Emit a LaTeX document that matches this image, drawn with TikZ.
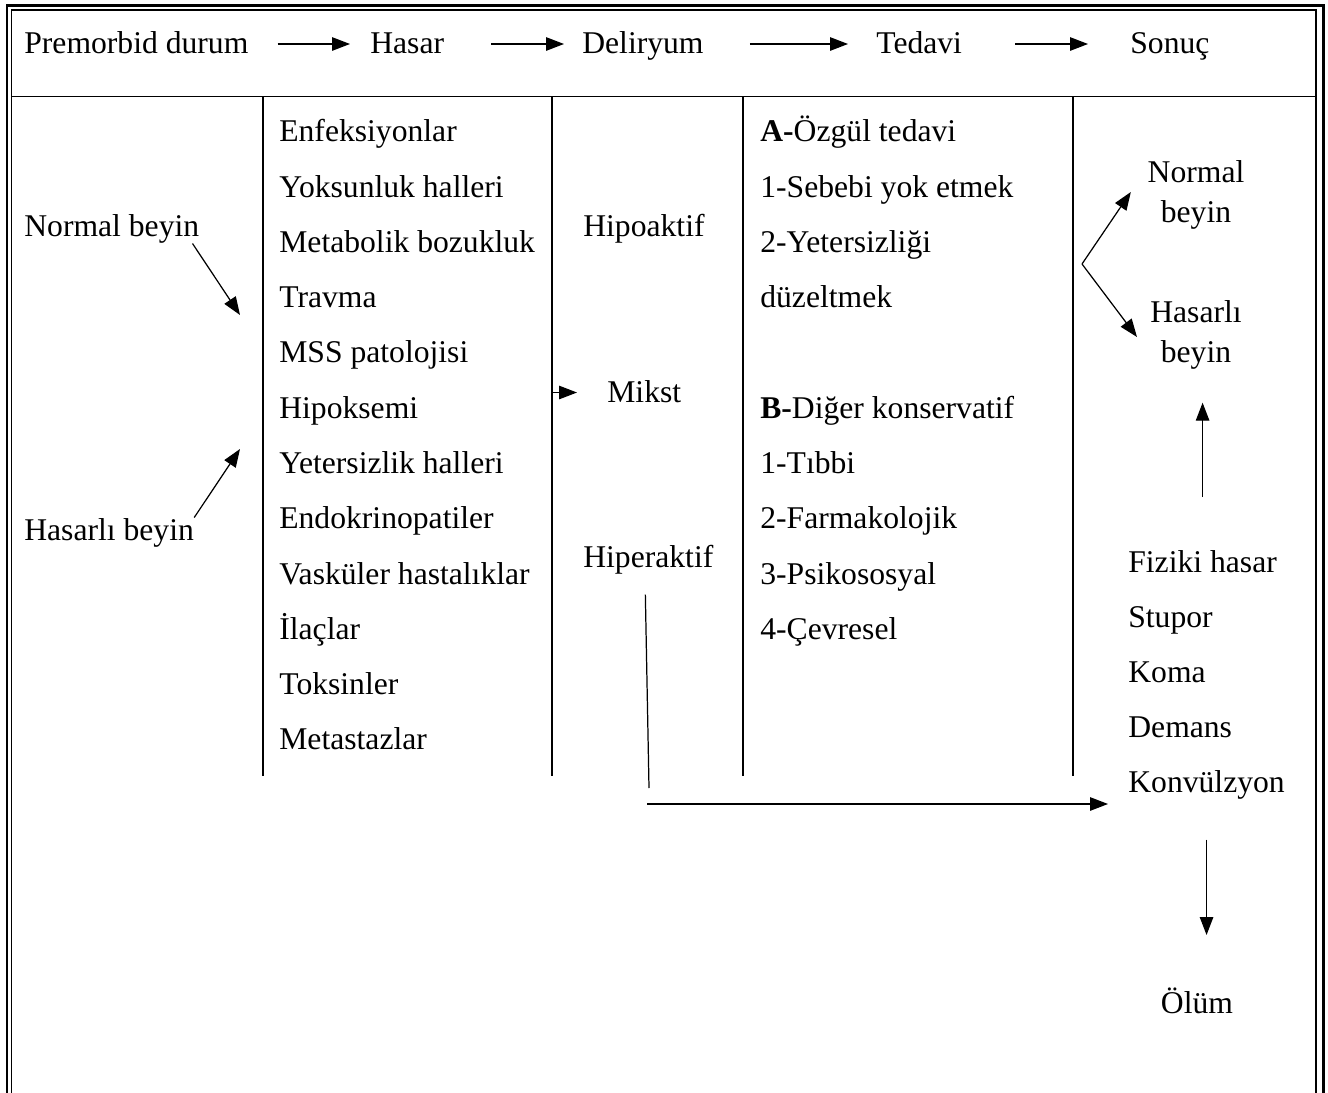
\documentclass[tikz,border=0pt]{standalone}
\usepackage{fontspec}
\setmainfont{Liberation Serif}
\usepackage{tikz}
\usetikzlibrary{arrows.meta,positioning,calc}
\tikzstyle{madde}=[inner sep=0pt, anchor=base west, text height=12.6pt,
  text depth=1.8pt, font=\fontsize{18}{22}\selectfont]
\tikzstyle{orta}=[madde, anchor=base]
\tikzstyle{ikisatir}=[inner sep=0pt, align=center, font=\fontsize{18}{22.7}\selectfont]
\tikzstyle{ok}=[draw, line width=0.7pt, -{Triangle[length=0.36cm,width=0.27cm]}]
\tikzstyle{kolon}=[draw, line width=1.1pt]
\newcommand{\madde}[2]{node (#1)[madde]{#2}}

\begin{document}
\begin{tikzpicture}
  \useasboundingbox (0,0) rectangle (26.56,-21.86);

  % Frame
  \draw[line width=1.7pt] (0.14,-21.86) -- (0.14,-0.11) -- (26.47,-0.11) -- (26.47,-21.86);
  \draw[line width=0.85pt] (0.23,-21.86) -- (0.23,-0.20) -- (26.32,-0.20) -- (26.32,-21.86);
  \draw[line width=1.1pt] (0.23,-1.93) -- (26.32,-1.93);
  \path[kolon] (5.26,-1.93) coordinate (kolon1) -- (5.26,-15.52);
  \path[kolon] (11.04,-1.93) coordinate (kolon2) -- (11.04,-15.52);
  \path[kolon] (14.86,-1.93) coordinate (kolon3) -- (14.86,-15.52);
  \path[kolon] (21.46,-1.93) coordinate (kolon4) -- (21.46,-15.52);

  % Header row
  \path (0.48,-1.07) \madde{premorbid}{Premorbid durum};
  \path (7.40,-1.07) \madde{hasar}{Hasar};
  \path (11.64,-1.07) \madde{deliryum}{Deliryum};
  \path (17.52,-1.07) \madde{tedavi}{Tedavi};
  \path (22.60,-1.07) \madde{sonuc}{Sonuç};

  \path[ok, shorten <=0.58cm, shorten >=0.40cm] (premorbid.east) -- (hasar.west);
  \path[ok, shorten <=0.94cm, shorten >=0.36cm] (hasar.east) -- (deliryum.west);
  \path[ok, shorten <=0.92cm, shorten >=0.56cm] (deliryum.east) -- (tedavi.west);
  \path[ok, shorten <=1.06cm, shorten >=0.84cm] (tedavi.east) -- (sonuc.west);

  % Premorbid state
  \path (0.48,-4.74) \madde{normalsol}{Normal beyin};
  \path (0.48,-10.80) \madde{hasarlisol}{Hasarlı beyin};
  \coordinate (girisust) at (4.80,-6.30);
  \coordinate (girisalt) at (4.80,-8.98);
  \path[ok] ($(normalsol.south east)+(-0.14,-0.06)$) -- (girisust);
  \path[ok] (hasarlisol.north east) -- (girisalt);

  % Causes
  \path (5.58,-2.84) \madde{h1}{Enfeksiyonlar};
  \path (h1.base west)+(0,-1.105) \madde{h2}{Yoksunluk halleri};
  \path (h2.base west)+(0,-1.105) \madde{h3}{Metabolik bozukluk};
  \path (h3.base west)+(0,-1.105) \madde{h4}{Travma};
  \path (h4.base west)+(0,-1.105) \madde{h5}{MSS patolojisi};
  \path (h5.base west)+(0,-1.105) \madde{h6}{Hipoksemi};
  \path (h6.base west)+(0,-1.105) \madde{h7}{Yetersizlik halleri};
  \path (h7.base west)+(0,-1.105) \madde{h8}{Endokrinopatiler};
  \path (h8.base west)+(0,-1.105) \madde{h9}{Vasküler hastalıklar};
  \path (h9.base west)+(0,-1.105) \madde{h10}{İlaçlar};
  \path (h10.base west)+(0,-1.105) \madde{h11}{Toksinler};
  \path (h11.base west)+(0,-1.105) \madde{h12}{Metastazlar};

  % Delirium types
  \path (11.66,-4.74) \madde{hipoaktif}{Hipoaktif};
  \path (12.14,-8.04) \madde{mikst}{Mikst};
  \path (11.66,-11.34) \madde{hiperaktif}{Hiperaktif};
  \path[ok, shorten >=0.60cm] (mikst.west -| kolon2) -- (mikst.west);

  % Treatment
  \path (15.20,-2.84) \madde{t1}{\textbf{A-}Özgül tedavi};
  \path (t1.base west)+(0,-1.105) \madde{t2}{1-Sebebi yok etmek};
  \path (t2.base west)+(0,-1.105) \madde{t3}{2-Yetersizliği};
  \path (t3.base west)+(0,-1.105) \madde{t4}{düzeltmek};
  \path (t4.base west)+(0,-2.21) \madde{t5}{\textbf{B-}Diğer konservatif};
  \path (t5.base west)+(0,-1.105) \madde{t6}{1-Tıbbi};
  \path (t6.base west)+(0,-1.105) \madde{t7}{2-Farmakolojik};
  \path (t7.base west)+(0,-1.105) \madde{t8}{3-Psikososyal};
  \path (t8.base west)+(0,-1.105) \madde{t9}{4-Çevresel};

  % Outcome
  \path (23.92,-3.90) node (normalsag)[ikisatir]{Normal\\beyin};
  \path (23.92,-6.70) node (hasarlisag)[ikisatir]{Hasarlı\\beyin};
  \coordinate (catal) at (21.64,-5.28);
  \path[ok] (catal) -- ($(normalsag.west)+(-0.33,0.06)$);
  \path[ok] (catal) -- ($(hasarlisag.west)+(-0.26,-0.04)$);

  \path (22.56,-11.44) \madde{fiziki}{Fiziki hasar};
  \path (fiziki.base west)+(0,-1.10) \madde{stupor}{Stupor};
  \path (stupor.base west)+(0,-1.10) \madde{koma}{Koma};
  \path (koma.base west)+(0,-1.10) \madde{demans}{Demans};
  \path (demans.base west)+(0,-1.10) \madde{konvulzyon}{Konvülzyon};
  \path (23.94,-20.26) node (olum)[orta]{Ölüm};

  \path[ok, shorten <=1.05cm, shorten >=0.66cm] (fiziki.north) -- (fiziki.north |- hasarlisag.south);
  \path[ok, shorten <=0.88cm, shorten >=1.11cm] (konvulzyon.south) -- (konvulzyon.south |- olum.north);

  % Hyperactive path
  \coordinate (kirik) at (12.94,-16.08);
  \draw[line width=0.7pt] ($(hiperaktif.south)+(-0.06,-0.48)$) -- ($(kirik)+(0.04,0.32)$);
  \path[ok, shorten >=0.40cm] (kirik) -- (kirik -| konvulzyon.west);

\end{tikzpicture}
\end{document}
